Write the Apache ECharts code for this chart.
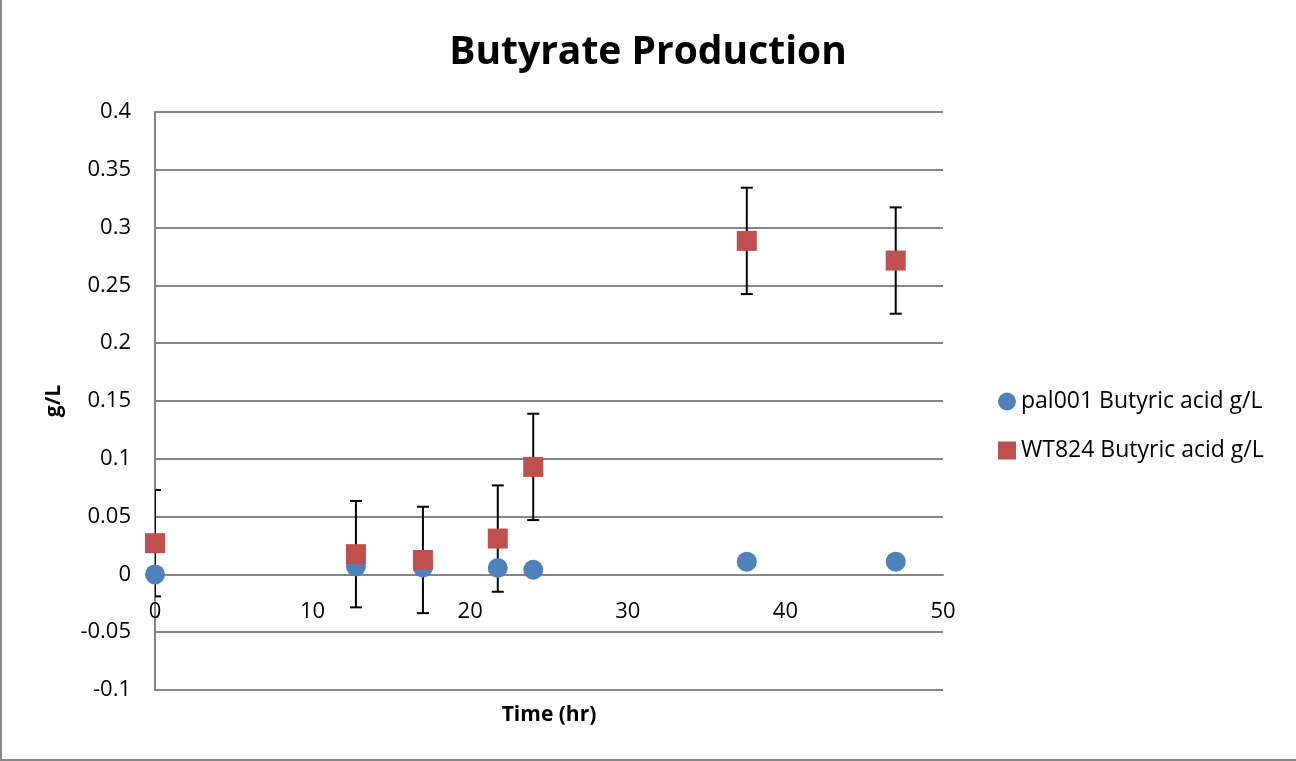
<!DOCTYPE html>
<html><head><meta charset="utf-8">
<script src="https://cdn.jsdelivr.net/npm/echarts@6/dist/echarts.min.js"></script>
<style>html,body{margin:0;padding:0;background:#fff}#c{width:1296px;height:761px}</style>
</head><body><div id="c"></div>
<script>
const timesA = [0, 12.75, 17, 21.75, 24, 37.55, 47];
const pal001 = [0, 0.007, 0.006, 0.0055, 0.004, 0.011, 0.011];
const timesB = [0, 12.75, 17, 21.75, 24, 37.55, 47];
const wt824 = [0.027, 0.0175, 0.0125, 0.031, 0.093, 0.2885, 0.2715];
const wt824Err = [0.046, 0.046, 0.046, 0.046, 0.046, 0.046, 0.046];
const seriesNames = ['pal001 Butyric acid g/L', 'WT824 Butyric acid g/L'];

const font = '"Open Sans", "Liberation Sans", sans-serif';
const chart = echarts.init(document.getElementById('c'));
const errData = timesB.map((t, i) => [t, wt824[i] - wt824Err[i], wt824[i] + wt824Err[i]]);

const gridTop = 112, gridBottom = 71, yMin = -0.1, yMax = 0.4;
const plotH = 761 - gridTop - gridBottom;
const zeroOffset = -plotH * (0 - yMin) / (yMax - yMin);

chart.setOption({
  animation: false,
  backgroundColor: '#fff',
  title: {text: 'Butyrate Production', left: 'center', top: 28,
    textStyle: {fontFamily: font, fontWeight: 'bold', fontSize: 39, color: '#000'}},
  grid: {left: 155, right: 353, top: gridTop, bottom: gridBottom, containLabel: false, outerBoundsMode: 'none'},
  legend: {orient: 'vertical', left: 993, top: 385, itemGap: 26, itemWidth: 18, itemHeight: 18,
    textStyle: {fontFamily: font, fontSize: 23, color: '#000'},
    data: [{name: seriesNames[0], icon: 'circle'}, {name: seriesNames[1], icon: 'rect'}]},
  xAxis: {type: 'value', min: 0, max: 50, interval: 10, offset: zeroOffset,
    name: 'Time (hr)', nameLocation: 'middle', nameGap: 130,
    nameTextStyle: {fontFamily: font, fontWeight: 'bold', fontSize: 21, color: '#000'},
    axisLine: {onZero: false, lineStyle: {color: '#868686', width: 2}},
    axisTick: {show: false},
    axisLabel: {fontFamily: font, fontSize: 22, color: '#000', margin: 26},
    splitLine: {show: false}},
  yAxis: {type: 'value', min: yMin, max: yMax, interval: 0.05,
    name: 'g/L', nameLocation: 'middle', nameGap: 90,
    nameTextStyle: {fontFamily: font, fontWeight: 'bold', fontSize: 21, color: '#000'},
    axisLine: {show: true, lineStyle: {color: '#868686', width: 2}},
    axisTick: {show: false},
    axisLabel: {fontFamily: font, fontSize: 22, color: '#000', margin: 24},
    splitLine: {lineStyle: {color: '#868686', width: 2}}},
  graphic: [
    {type: 'line', shape: {x1: 1, y1: 0, x2: 1, y2: 760}, style: {stroke: '#888', lineWidth: 2}},
    {type: 'line', shape: {x1: 0, y1: 760, x2: 1296, y2: 760}, style: {stroke: '#888', lineWidth: 2}}
  ],
  series: [
    {type: 'custom', name: 'err', clip: true, z: 1, data: errData,
      renderItem: function (params, api) {
        const x = api.value(0);
        const lo = api.coord([x, api.value(1)]);
        const hi = api.coord([x, api.value(2)]);
        const w = 6;
        const st = {stroke: '#000', lineWidth: 2};
        return {type: 'group', children: [
          {type: 'line', shape: {x1: lo[0], y1: lo[1], x2: hi[0], y2: hi[1]}, style: st},
          {type: 'line', shape: {x1: lo[0] - w, y1: lo[1], x2: lo[0] + w, y2: lo[1]}, style: st},
          {type: 'line', shape: {x1: hi[0] - w, y1: hi[1], x2: hi[0] + w, y2: hi[1]}, style: st}
        ]};
      }},
    {type: 'scatter', name: seriesNames[0], z: 2, clip: false, symbol: 'circle', symbolSize: 20,
      itemStyle: {color: '#4F81BD', opacity: 1},
      data: timesA.map((t, i) => [t, pal001[i]])},
    {type: 'scatter', name: seriesNames[1], z: 3, clip: false, symbol: 'rect', symbolSize: 20,
      itemStyle: {color: '#C0504D', opacity: 1},
      data: timesB.map((t, i) => [t, wt824[i]])}
  ]
});
</script></body></html>
